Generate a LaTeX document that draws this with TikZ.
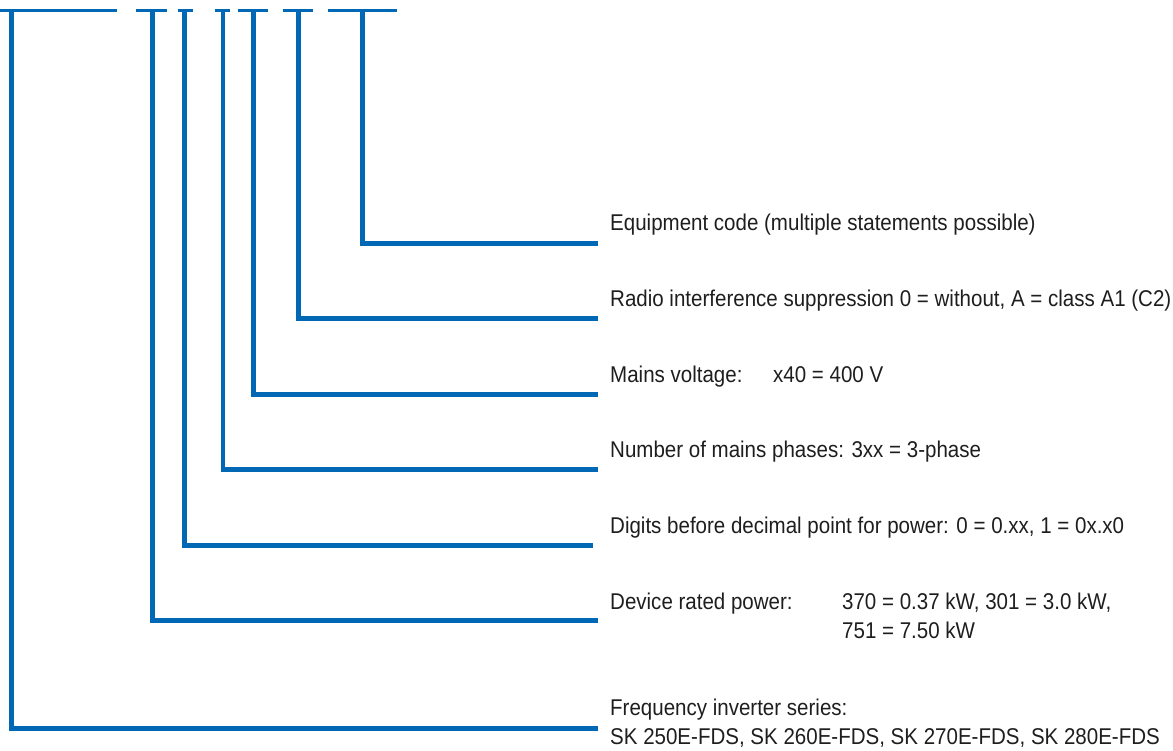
\documentclass[tikz,border=0pt]{standalone}
\usepackage{fontspec}
\setmainfont{Liberation Sans}[FakeStretch=0.9]
\definecolor{codeblue}{RGB}{0,104,180}
\definecolor{txt}{RGB}{30,30,30}
\begin{document}
\begin{tikzpicture}[x=1pt,y=-1pt,
  bar/.style={draw=codeblue,line width=3pt},
  lead/.style={draw=codeblue,line width=4.8pt,line join=miter,line cap=butt},
  lbl/.style={anchor=base west,inner sep=0pt,text=txt,font=\fontsize{22.8}{28.6}\selectfont}]
\useasboundingbox (0,0) rectangle (1173,751);
% type-code underline segments
\draw[bar] (0,10.8) -- (116.7,10.8);
\draw[bar] (136,10.8) -- (166.7,10.8);
\draw[bar] (177.7,10.8) -- (192.7,10.8);
\draw[bar] (215,10.8) -- (230,10.8);
\draw[bar] (237.7,10.8) -- (268.3,10.8);
\draw[bar] (282.7,10.8) -- (313.3,10.8);
\draw[bar] (328.3,10.8) -- (396.7,10.8);
% top points
\coordinate (t1) at (11.2,9.3);
\coordinate (t2) at (152.7,9.3);
\coordinate (t3) at (184.7,9.3);
\coordinate (t4) at (223,9.3);
\coordinate (t5) at (253.3,9.3);
\coordinate (t6) at (298.3,9.3);
\coordinate (t7) at (362.3,9.3);
% line ends
\coordinate (e7) at (597.7,243.5);
\coordinate (e6) at (597.7,318.9);
\coordinate (e5) at (597.7,394.3);
\coordinate (e4) at (597.7,469.7);
\coordinate (e3) at (593.3,545.1);
\coordinate (e2) at (597.7,620.5);
\coordinate (e1) at (597.7,728.6);
% labels
\node[lbl] (l7) at (610,230.5) {Equipment code (multiple statements possible)};
\node[lbl] (l6) at (610,306.3) {Radio interference suppression 0 = without, A = class A1 (C2)};
\node[lbl] (l5) at (610,382.1) {\makebox[163pt][l]{Mains voltage:}x40 = 400 V};
\node[lbl] (l4) at (610,457.9) {Number of mains phases: 3xx = 3-phase};
\node[lbl] (l3) at (610,533.7) {Digits before decimal point for power: 0 = 0.xx, 1 = 0x.x0};
\node[lbl] (l2) at (610,609.5) {\begin{tabular}[t]{@{}p{232pt}@{}l@{}}Device rated power: & 370 = 0.37 kW, 301 = 3.0 kW,\\ & 751 = 7.50 kW\end{tabular}};
\node[lbl] (l1) at (610,715.7) {\begin{tabular}[t]{@{}l@{}}Frequency inverter series:\\SK 250E-FDS, SK 260E-FDS, SK 270E-FDS, SK 280E-FDS\end{tabular}};
% leaders
\draw[lead] (t1) |- (e1);
\draw[lead] (t2) |- (e2);
\draw[lead] (t3) |- (e3);
\draw[lead] (t4) |- (e4);
\draw[lead] (t5) |- (e5);
\draw[lead] (t6) |- (e6);
\draw[lead] (t7) |- (e7);
\end{tikzpicture}
\end{document}
